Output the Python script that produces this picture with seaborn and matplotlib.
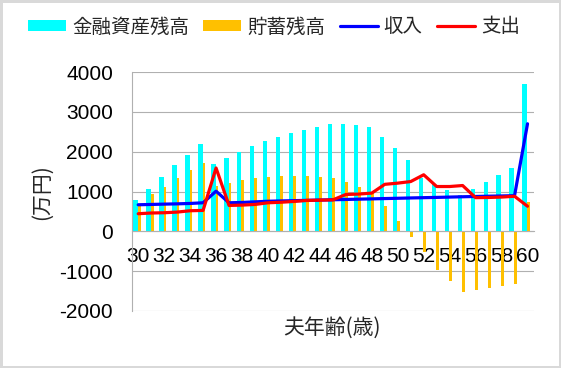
import numpy as np
import pandas as pd
import matplotlib
matplotlib.use("Agg")
import matplotlib.pyplot as plt
import seaborn as sns
from matplotlib.patches import Patch, Rectangle
from matplotlib.lines import Line2D

# ---------------- data ----------------
ages = list(range(30, 61))
financial_assets = [775, 1075, 1375, 1675, 1925, 2200, 1700, 1850, 2000, 2150,
                    2275, 2375, 2475, 2550, 2625, 2700, 2700, 2675, 2625, 2375,
                    2100, 1800, 1350, 1200, 1050, 900, 1075, 1250, 1425, 1600, 3700]
savings = [650, 925, 1125, 1350, 1550, 1725, 1150, 1225, 1300, 1350,
           1375, 1400, 1400, 1400, 1375, 1350, 1250, 1125, 950, 625,
           250, -140, -520, -960, -1240, -1515, -1465, -1415, -1365, -1315, 725]
income = [667, 675, 683, 690, 700, 717, 1008, 717, 725, 740,
          755, 763, 770, 778, 785, 793, 800, 808, 815, 823,
          830, 838, 845, 852, 860, 868, 875, 882, 888, 895, 2700]
expense = [442, 460, 467, 483, 517, 525, 1590, 650, 658, 675,
           717, 730, 750, 775, 783, 790, 925, 935, 960, 1180,
           1210, 1250, 1420, 1125, 1125, 1150, 845, 850, 860, 880, 630]
series_names = ["金融資産残高", "貯蓄残高", "収入", "支出"]
y_ticks = [-2000, -1000, 0, 1000, 2000, 3000, 4000]
x_tick_labels = [str(a) if a % 2 == 0 else "" for a in ages]
x_label = "夫年齢(歳)"
y_label = "(万円)"

# ---------------- style ----------------
C_CYAN, C_ORANGE, C_BLUE, C_RED = "#00FFFF", "#FFC000", "#0000FF", "#FF0000"
GRID = "#b0b0b0"
sns.set_style("white")
plt.rcParams["font.family"] = ["Liberation Sans", "Noto Sans CJK JP", "DejaVu Sans"]
plt.rcParams["axes.unicode_minus"] = False
CJK = ["Noto Sans CJK JP", "DejaVu Sans"]

W, H = 561, 368
fig = plt.figure(figsize=(W / 100, H / 100), dpi=100)
ax = fig.add_axes([131.7 / W, 1 - 311 / H, (534 - 131.7) / W, (311 - 72) / H])

df = pd.DataFrame({
    "age": ages * 2,
    "value": financial_assets + savings,
    "series": [series_names[0]] * len(ages) + [series_names[1]] * len(ages),
})
sns.barplot(data=df, x="age", y="value", hue="series",
            hue_order=series_names[:2], palette=[C_CYAN, C_ORANGE],
            saturation=1, errorbar=None, width=0.5, dodge=True,
            legend=False, ax=ax)

# adjust bar geometry (cyan wider, orange narrower, offset like the reference)
for i, p in enumerate(ax.containers[0]):
    p.set_x(i - 0.39)
    p.set_width(0.35)
    p.set_linewidth(0)
for i, p in enumerate(ax.containers[1]):
    p.set_x(i - 0.04)
    p.set_width(0.22)
    p.set_linewidth(0)

sns.pointplot(x=ages, y=income, color=C_BLUE, marker="", linewidth=2.3,
              errorbar=None, ax=ax)
sns.pointplot(x=ages, y=expense, color=C_RED, marker="", linewidth=2.3,
              errorbar=None, ax=ax)
for ln in ax.lines:
    ln.set_zorder(5)
    ln.set_solid_joinstyle("round")

ax.set_xlim(-0.5, len(ages) - 0.5)
ax.set_ylim(-2000, 4000)
ax.set_yticks(y_ticks)
ax.set_xticks(range(len(ages)))
ax.set_xticklabels(x_tick_labels)
ax.set_xlabel("")
ax.set_ylabel("")
ax.yaxis.grid(True, color=GRID, linewidth=0.8)
ax.xaxis.grid(False)
ax.set_axisbelow(True)
for s in ["top", "right"]:
    ax.spines[s].set_visible(False)
ax.spines["left"].set_color(GRID)
ax.spines["left"].set_linewidth(0.8)
ax.spines["bottom"].set_position(("data", 0))
ax.spines["bottom"].set_color(GRID)
ax.spines["bottom"].set_linewidth(0.8)
ax.tick_params(axis="both", length=0, labelsize=15, colors="black")
ax.tick_params(axis="x", pad=11.5)
ax.tick_params(axis="y", pad=13.5)

fig.text(332 / W, 1 - 328 / H, x_label, ha="center", va="center",
         fontsize=15, family=CJK)
fig.text(42 / W, 1 - 192 / H, y_label, ha="center", va="center",
         fontsize=15, rotation=90, family=CJK)

handles = [Patch(facecolor=C_CYAN, edgecolor="none"),
           Patch(facecolor=C_ORANGE, edgecolor="none"),
           Line2D([], [], color=C_BLUE, lw=2.3),
           Line2D([], [], color=C_RED, lw=2.3)]
fig.legend(handles, series_names, loc="center", bbox_to_anchor=(274 / W, 1 - 27 / H),
           ncol=4, frameon=False, handlelength=1.95, handletextpad=0.3,
           columnspacing=0.75, handleheight=0.55, borderaxespad=0,
           prop={"family": CJK, "size": 14})

fig.patches.append(Rectangle((0, 0), 1, 1, transform=fig.transFigure,
                             fill=False, edgecolor="#d9d9d9", linewidth=3.6))

fig.savefig("out.png", dpi=100)
